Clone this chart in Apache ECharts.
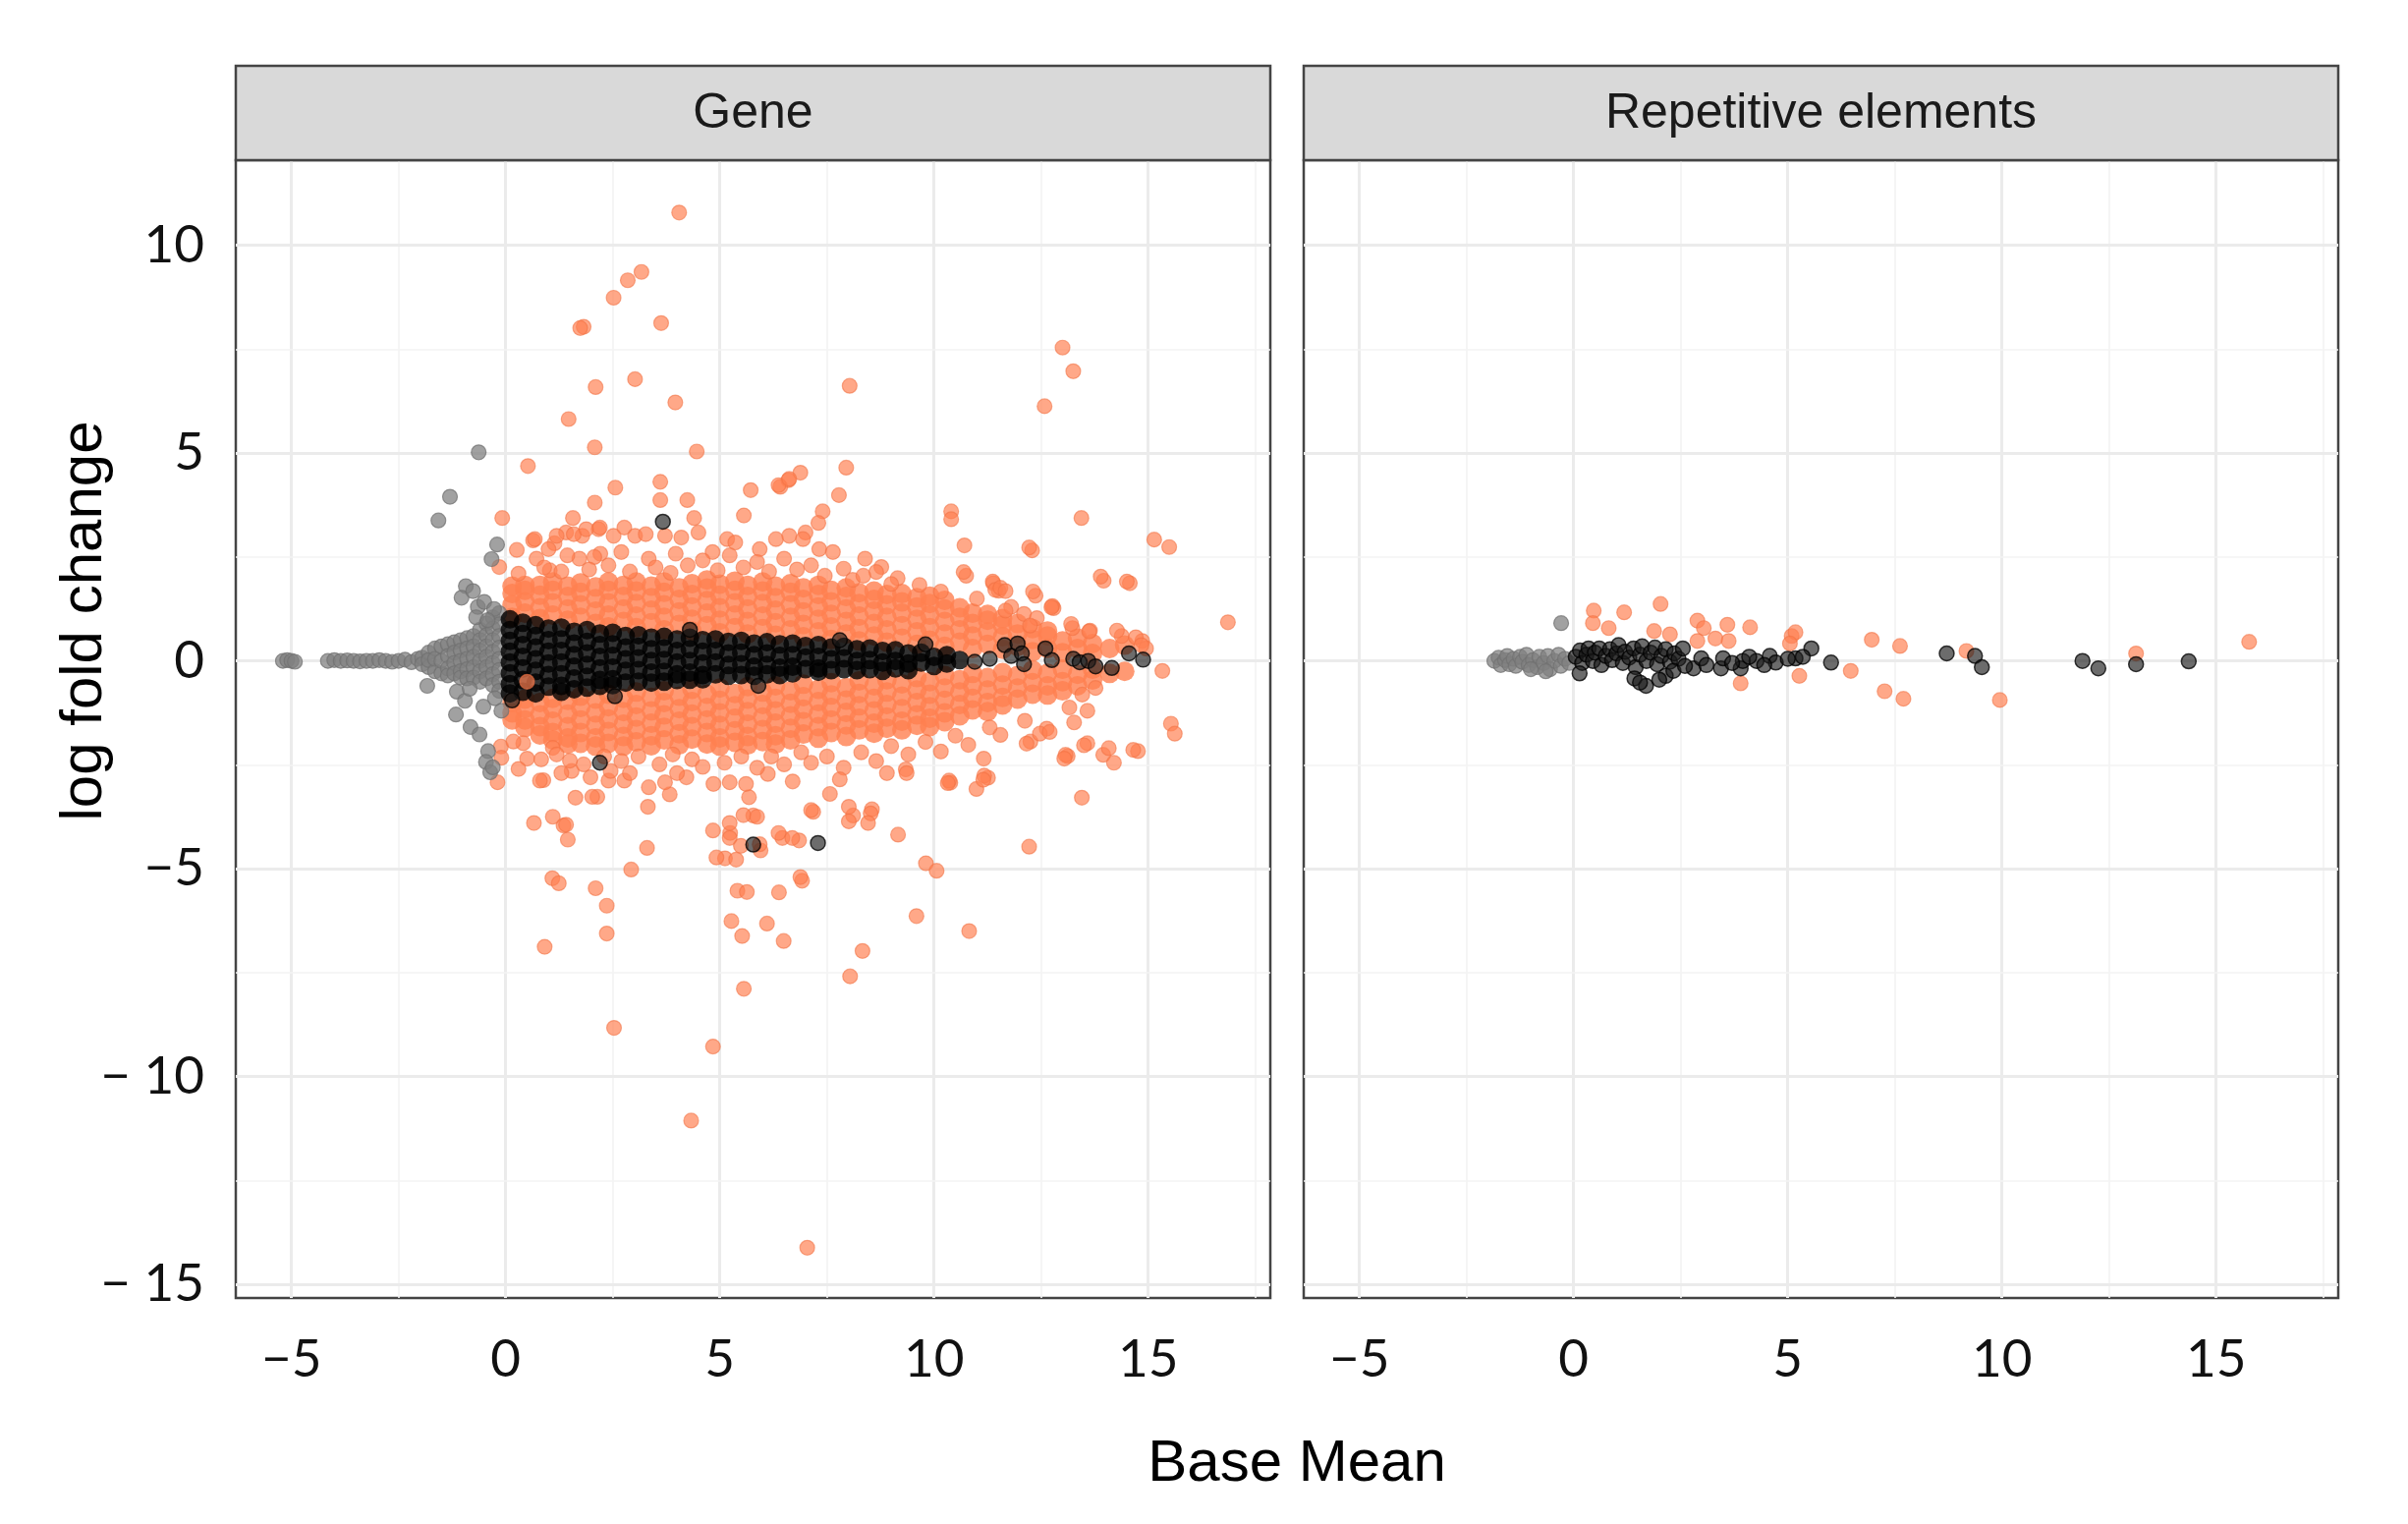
<!DOCTYPE html>
<html>
<head>
<meta charset="utf-8">
<script src="https://cdn.jsdelivr.net/npm/echarts@6/dist/echarts.min.js"></script>
<style>
  html, body { margin: 0; padding: 0; background: #fff; }
  #chart { width: 2451px; height: 1551px; }
</style>
</head>
<body>
<div id="chart"></div>
<script>
// ---- data ----
var panelNames = ['Gene', 'Repetitive elements'];
var xTicks = [-5, 0, 5, 10, 15];
var yTicks = [-15, -10, -5, 0, 5, 10];
var xMinorLines = [-2.5, 2.5, 7.5, 12.5, 17.5];
var yMinorLines = [-12.5, -7.5, -2.5, 2.5, 7.5];

// Gene panel, significant (orange): dense cloud as columns [x, y, y, ...]
var geneSigCloud = [
  [0.15, 1.05, 1.35, 1.62, 1.8, -1.0, -1.25, -1.42],
  [0.45, 1.15, 1.42, 1.7, 1.82, -0.92, -1.15, -1.42, -1.6],
  [0.8, 1.02, 1.28, 1.58, 1.82, -1.0, -1.3, -1.58, -1.78],
  [1.1, 1.1, 1.4, 1.7, 1.9, -0.9, -1.15, -1.45, -1.72, -1.9],
  [1.45, 0.98, 1.25, 1.55, 1.8, -0.95, -1.28, -1.58, -1.85, -2.0],
  [1.75, 1.05, 1.35, 1.65, 1.88, -0.85, -1.12, -1.42, -1.72, -1.98],
  [2.1, 0.9, 1.2, 1.5, 1.78, -0.92, -1.25, -1.55, -1.85, -2.05],
  [2.4, 0.82, 1.1, 1.4, 1.7, 1.9, -0.8, -1.1, -1.4, -1.7, -1.98],
  [2.75, 0.95, 1.25, 1.55, 1.82, -0.9, -1.22, -1.52, -1.82, -2.05],
  [3.05, 0.8, 1.08, 1.38, 1.68, 1.9, -0.75, -1.05, -1.35, -1.65, -1.95],
  [3.4, 0.92, 1.22, 1.52, 1.8, -0.88, -1.2, -1.5, -1.8, -2.04],
  [3.7, 0.75, 1.05, 1.35, 1.65, 1.9, -0.72, -1.0, -1.3, -1.6, -1.9],
  [4.05, 0.88, 1.18, 1.48, 1.76, -0.85, -1.15, -1.45, -1.75, -2.02],
  [4.35, 0.72, 1.0, 1.3, 1.6, 1.86, -0.68, -0.98, -1.28, -1.58, -1.88],
  [4.7, 0.85, 1.15, 1.45, 1.75, 1.95, -0.8, -1.12, -1.42, -1.72, -2.0],
  [5.0, 0.68, 0.98, 1.28, 1.58, 1.85, -0.65, -0.95, -1.25, -1.55, -1.85, -2.05],
  [5.35, 0.8, 1.1, 1.4, 1.7, 1.92, -0.78, -1.08, -1.38, -1.68, -1.96],
  [5.65, 0.65, 0.95, 1.25, 1.55, 1.82, -0.62, -0.92, -1.22, -1.52, -1.82, -2.02],
  [6.0, 0.78, 1.08, 1.38, 1.68, 1.9, -0.75, -1.05, -1.35, -1.65, -1.94],
  [6.3, 0.62, 0.92, 1.22, 1.52, 1.8, -0.6, -0.9, -1.2, -1.5, -1.8, -2.0],
  [6.65, 0.75, 1.05, 1.35, 1.65, 1.86, -0.72, -1.02, -1.32, -1.62, -1.9],
  [6.95, 0.58, 0.88, 1.18, 1.48, 1.76, -0.56, -0.86, -1.16, -1.46, -1.76],
  [7.3, 0.7, 1.0, 1.3, 1.6, 1.82, -0.68, -0.98, -1.28, -1.58, -1.86],
  [7.6, 0.52, 0.82, 1.12, 1.42, 1.7, -0.52, -0.82, -1.12, -1.42, -1.72],
  [7.95, 0.65, 0.95, 1.25, 1.55, 1.76, -0.64, -0.94, -1.24, -1.54, -1.82],
  [8.25, 0.48, 0.78, 1.08, 1.38, 1.64, -0.48, -0.78, -1.08, -1.38, -1.66],
  [8.6, 0.6, 0.9, 1.2, 1.48, 1.68, -0.6, -0.9, -1.2, -1.5, -1.74],
  [8.9, 0.45, 0.75, 1.05, 1.35, 1.6, -0.45, -0.75, -1.05, -1.35, -1.62],
  [9.25, 0.55, 0.85, 1.15, 1.42, 1.62, -0.55, -0.85, -1.15, -1.45, -1.66],
  [9.6, 0.4, 0.7, 1.0, 1.3, 1.52, -0.4, -0.7, -1.0, -1.3, -1.55],
  [9.9, 0.5, 0.8, 1.1, 1.38, 1.56, -0.5, -0.8, -1.1, -1.38, -1.58],
  [10.25, 0.35, 0.65, 0.95, 1.25, 1.46, -0.35, -0.65, -0.95, -1.25, -1.46],
  [10.6, 0.45, 0.75, 1.05, 1.28, -0.45, -0.75, -1.05, -1.32],
  [10.9, 0.3, 0.6, 0.9, 1.15, -0.3, -0.6, -0.9, -1.18],
  [11.25, 0.4, 0.7, 0.98, 1.12, -0.4, -0.7, -1.0, -1.22],
  [11.6, 0.28, 0.58, 0.86, 1.02, -0.28, -0.58, -0.88, -1.06],
  [11.95, 0.35, 0.65, 0.9, -0.35, -0.65, -0.92],
  [12.3, 0.22, 0.52, 0.78, -0.22, -0.52, -0.8],
  [12.65, 0.3, 0.6, 0.72, -0.3, -0.6, -0.82],
  [13.0, 0.2, 0.48, -0.2, -0.5, -0.72],
  [13.35, 0.3, 0.55, -0.32, -0.6],
  [13.7, 0.18, 0.42, -0.2, -0.46],
  [14.1, 0.3, -0.3],
  [14.45, 0.38, -0.25]
];

// Gene panel, significant (orange): scattered points [x, y]
var geneSigScatter = [
  [4.05, 10.79], [3.17, 9.36], [2.85, 9.16], [2.52, 8.74], [1.82, 8.04], [1.74, 8.01],
  [3.63, 8.13], [13.0, 7.54], [13.25, 6.97], [2.1, 6.59], [3.02, 6.78], [8.03, 6.62],
  [3.96, 6.22], [12.58, 6.13], [1.47, 5.82], [2.08, 5.14], [4.46, 5.04], [0.52, 4.69],
  [7.95, 4.65], [6.88, 4.53], [6.6, 4.35], [6.41, 4.19], [5.72, 4.11], [2.56, 4.17],
  [3.61, 4.31], [3.61, 3.87], [4.24, 3.87], [2.08, 3.81], [7.78, 3.99], [7.4, 3.6],
  [7.3, 3.32], [5.56, 3.5], [4.4, 3.44], [1.57, 3.44], [-0.08, 3.44], [10.4, 3.6],
  [10.4, 3.41], [13.44, 3.44], [15.14, 2.92], [15.49, 2.74], [10.71, 2.78], [12.29, 2.66],
  [10.75, 2.05], [13.96, 1.93], [14.57, 1.87], [16.86, 0.93], [12.37, 1.57], [11.38, 1.87],
  [11.51, 1.69], [12.79, 1.27], [13.23, 0.79], [14.38, 0.6], [14.86, 0.48], [14.95, 0.3],
  [15.33, -0.24], [15.53, -1.51], [15.62, -1.75],
  [2.17, 3.17], [1.41, 3.09], [1.79, 3.01], [0.64, 2.9], [0.26, 2.67], [1.14, 2.83],
  [0.72, 2.46], [-0.15, 2.26], [1.03, 2.18], [1.72, 2.46], [2.21, 2.58],
  [6.37, 4.23], [6.62, 4.38], [7.0, 3.09], [12.22, 2.73],
  [0.68, 2.93], [1.0, 2.69], [1.19, 3.01], [1.59, 3.05], [1.88, 3.17], [2.2, 3.21],
  [2.52, 3.01], [2.77, 3.21], [3.02, 3.01], [3.27, 3.05], [3.72, 3.01], [4.1, 2.97],
  [4.5, 3.09], [4.83, 2.62], [5.17, 2.93], [5.36, 2.85], [5.93, 2.69], [6.31, 2.93],
  [6.62, 3.01], [6.94, 2.93], [7.32, 2.69], [7.64, 2.62], [8.39, 2.46], [8.77, 2.26],
  [10.69, 2.14], [13.89, 2.03], [14.5, 1.91],
  [1.44, 2.54], [2.07, 2.5], [2.7, 2.62], [3.34, 2.46], [3.97, 2.58], [4.6, 2.42],
  [5.23, 2.54], [5.87, 2.38], [6.5, 2.46], [7.13, 2.3], [7.89, 2.22], [8.65, 2.14],
  [9.15, 1.99], [9.66, 1.83], [10.16, 1.67],
  [11.37, 1.91], [11.43, 1.71], [12.31, 1.67], [12.76, 1.32], [13.2, 0.89], [13.64, 0.73],
  [14.27, 0.73], [14.71, 0.57], [14.84, 0.38],
  [0.3, 2.1], [0.9, 2.25], [1.3, 2.15], [1.95, 2.2], [2.4, 2.3], [2.9, 2.15], [3.5, 2.25],
  [3.85, 2.12], [4.25, 2.3], [4.95, 2.18], [5.55, 2.25], [6.15, 2.15], [6.8, 2.2],
  [7.45, 2.05], [8.1, 1.95], [8.35, 2.05], [9.0, 1.85], [11.0, 1.5], [11.8, 1.3],
  [12.1, 1.13], [12.4, 1.03], [12.24, 0.85], [13.62, 0.71], [12.74, 1.29], [11.67, 1.21],
  [11.55, 1.76], [11.67, 1.68],
  [7.04, -14.12], [4.33, -11.06], [4.84, -9.28], [2.53, -8.83], [8.04, -7.59], [8.33, -6.98],
  [0.91, -6.88], [5.56, -7.89], [2.36, -6.56], [6.49, -6.74], [5.52, -6.62], [6.1, -6.32],
  [5.27, -6.26], [10.82, -6.5], [9.59, -6.14], [2.36, -5.89], [2.1, -5.47], [1.09, -5.23],
  [1.24, -5.35], [5.41, -5.53], [5.63, -5.56], [6.38, -5.57], [6.92, -5.29], [2.93, -5.02],
  [9.81, -4.87], [10.06, -5.05], [5.12, -4.75], [5.38, -4.78], [5.95, -4.56], [12.22, -4.47],
  [3.3, -4.5], [0.66, -3.9], [1.45, -4.3], [1.35, -3.96], [4.84, -4.08], [5.24, -4.14],
  [6.46, -4.26], [6.85, -4.32], [9.16, -4.18], [13.45, -3.29], [7.18, -3.63], [8.55, -3.57],
  [8.11, -3.72], [5.78, -3.72], [3.32, -3.51], [2.14, -3.27], [1.63, -3.29], [0.88, -2.87],
  [3.83, -3.21], [10.38, -2.93], [11.26, -2.81], [13.12, -2.29], [13.95, -2.26], [14.2, -2.45],
  [14.76, -2.17],
  [-0.11, -2.06], [-0.1, -2.33], [0.41, -1.98], [1.1, -2.09], [0.83, -2.37], [-0.19, -2.92],
  [0.8, -2.88], [2.02, -3.27], [1.98, -2.8], [2.4, -2.88], [1.1, -3.75], [1.41, -3.94],
  [1.54, -2.65], [2.45, -2.65], [2.77, -2.88], [3.34, -3.04], [3.72, -2.92], [4.22, -2.8],
  [4.85, -2.96], [5.23, -2.92], [5.68, -3.28], [5.61, -2.96], [6.12, -2.72], [5.23, -4.26],
  [5.23, -3.9], [5.55, -3.71], [5.87, -3.75], [4.92, -4.73], [5.49, -4.45], [5.93, -4.41],
  [6.37, -4.14], [6.69, -4.26], [6.88, -5.2], [7.13, -3.59], [7.57, -3.2], [8.01, -3.51],
  [8.52, -3.67], [8.01, -3.86], [8.46, -3.9], [9.34, -2.61], [10.35, -2.88], [11.17, -2.76],
  [10.99, -3.08], [12.25, -1.94], [12.63, -1.63], [13.07, -2.26], [13.58, -1.98], [14.08, -2.1],
  [14.65, -2.14],
  [0.18, -1.94], [1.19, -2.25], [1.82, -2.49], [2.7, -2.41], [3.59, -2.49], [4.35, -2.37],
  [5.11, -2.45], [5.87, -2.57], [6.5, -2.49], [7.13, -2.45], [7.89, -2.57], [8.65, -2.41],
  [9.4, -2.25], [10.16, -2.18], [10.8, -2.02], [11.55, -1.78],
  [12.12, -1.44], [12.47, -1.75], [12.7, -1.71], [12.16, -1.99], [13.04, -2.35], [13.5, -2.03],
  [13.16, -1.12], [13.58, -1.2], [13.27, -1.48], [13.77, -0.65], [13.46, -0.81], [11.16, -2.35],
  [11.15, -2.86], [10.32, -2.94], [9.36, -2.7],
  [0.5, -2.35], [1.5, -2.4], [2.3, -2.3], [3.1, -2.3], [3.9, -2.25], [4.6, -2.55], [5.5, -2.3],
  [6.2, -2.3], [6.9, -2.2], [7.5, -2.3], [8.3, -2.2], [9.0, -2.05], [9.8, -1.95], [10.5, -1.8],
  [11.3, -1.6], [2.9, -2.7], [4.0, -2.7], [6.7, -2.9], [7.8, -2.85], [8.9, -2.7], [0.3, -2.6],
  [1.3, -2.7]
];
var geneSigOnTop = [[0.5, -0.5]];

// Gene panel, not significant (black): band as columns [x, y, y, ...] plus single points
var geneNsBand = [
  [0.1, 1.0, 0.74, 0.48, 0.22, -0.04, -0.3, -0.56, -0.78],
  [0.4, 0.92, 0.65, 0.38, 0.1, -0.18, -0.46, -0.74],
  [0.7, 0.86, 0.6, 0.32, 0.04, -0.24, -0.52, -0.78],
  [1.0, 0.78, 0.5, 0.22, -0.06, -0.34, -0.62],
  [1.3, 0.8, 0.52, 0.24, -0.04, -0.32, -0.6, -0.74],
  [1.6, 0.7, 0.42, 0.14, -0.14, -0.42, -0.68],
  [1.9, 0.74, 0.46, 0.18, -0.1, -0.38, -0.64],
  [2.2, 0.66, 0.38, 0.1, -0.18, -0.46, -0.6],
  [2.5, 0.68, 0.4, 0.12, -0.16, -0.44, -0.58],
  [2.8, 0.6, 0.32, 0.04, -0.24, -0.52],
  [3.1, 0.62, 0.34, 0.06, -0.22, -0.5],
  [3.4, 0.56, 0.28, 0.0, -0.28, -0.52],
  [3.7, 0.58, 0.3, 0.02, -0.26, -0.5],
  [4.0, 0.52, 0.24, -0.04, -0.32, -0.46],
  [4.3, 0.56, 0.28, 0.0, -0.28, -0.45],
  [4.6, 0.5, 0.22, -0.06, -0.34, -0.44],
  [4.9, 0.52, 0.24, -0.04, -0.32],
  [5.2, 0.46, 0.18, -0.1, -0.36],
  [5.5, 0.48, 0.2, -0.08, -0.34],
  [5.8, 0.42, 0.14, -0.14, -0.36],
  [6.1, 0.45, 0.18, -0.1, -0.32],
  [6.4, 0.4, 0.12, -0.16, -0.34],
  [6.7, 0.42, 0.14, -0.14, -0.3],
  [7.0, 0.36, 0.08, -0.2],
  [7.3, 0.38, 0.1, -0.18, -0.26],
  [7.6, 0.32, 0.04, -0.22],
  [7.9, 0.34, 0.06, -0.2],
  [8.2, 0.28, 0.0, -0.22],
  [8.5, 0.3, 0.02, -0.2],
  [8.8, 0.24, -0.04, -0.24],
  [9.1, 0.26, 0.0, -0.18],
  [9.4, 0.18, -0.06, -0.22],
  [9.7, 0.2, -0.04],
  [10.0, 0.1, -0.12],
  [10.3, 0.14, -0.06],
  [10.6, 0.02]
];
var geneNsSingles = [
  [10.95, -0.02], [11.3, 0.05], [11.65, 0.38], [11.8, 0.12], [11.95, 0.42], [12.05, 0.18],
  [12.1, -0.08], [12.6, 0.3], [12.75, 0.02], [13.25, 0.05], [13.4, -0.03], [13.6, 0.0],
  [13.77, -0.13], [14.15, -0.17], [14.55, 0.18], [14.88, 0.03], [3.67, 3.35], [2.2, -2.45],
  [5.78, -4.42], [7.29, -4.38], [0.15, -0.95], [2.55, -0.85], [4.3, 0.75], [7.8, 0.5],
  [9.8, 0.4], [5.9, -0.6]
];

// Gene panel, low counts (grey)
var geneLow = [
  [-5.2, 0.0], [-5.1, 0.02], [-5.0, 0.0], [-4.92, -0.02], [-4.15, 0.0], [-4.0, 0.02],
  [-3.85, 0.0], [-3.7, 0.01], [-3.55, 0.0], [-3.4, -0.01], [-3.25, 0.0], [-3.1, 0.0],
  [-2.95, 0.02], [-2.8, 0.0], [-2.65, -0.02], [-2.5, 0.0], [-2.35, 0.03], [-2.2, -0.03],
  [-2.05, 0.05], [-1.95, 0.08], [-1.95, -0.08], [-1.8, 0.2], [-1.8, -0.15], [-1.8, 0.02],
  [-1.65, 0.3], [-1.65, -0.25], [-1.65, 0.05], [-1.5, 0.35], [-1.5, -0.3], [-1.5, 0.0],
  [-1.35, 0.4], [-1.35, 0.12], [-1.35, -0.18], [-1.35, -0.35], [-1.2, 0.45], [-1.2, 0.2],
  [-1.2, -0.05], [-1.2, -0.3], [-1.05, 0.5], [-1.05, 0.25], [-1.05, 0.0], [-1.05, -0.25],
  [-1.05, -0.4], [-0.9, 0.55], [-0.9, 0.3], [-0.9, 0.05], [-0.9, -0.2], [-0.9, -0.42],
  [-0.75, 0.6], [-0.75, 0.35], [-0.75, 0.1], [-0.75, -0.15], [-0.75, -0.4], [-0.6, 0.75],
  [-0.6, 0.5], [-0.6, 0.25], [-0.6, 0.0], [-0.6, -0.25], [-0.6, -0.5], [-0.45, 0.9],
  [-0.45, 0.62], [-0.45, 0.35], [-0.45, 0.1], [-0.45, -0.15], [-0.45, -0.42], [-0.3, 1.05],
  [-0.3, 0.78], [-0.3, 0.5], [-0.3, 0.22], [-0.3, -0.05], [-0.3, -0.32], [-0.3, -0.58],
  [-0.15, 1.15], [-0.15, 0.88], [-0.15, 0.6], [-0.15, 0.32], [-0.15, 0.05], [-0.15, -0.22],
  [-0.15, -0.5], [-0.15, -0.72],
  [-0.63, 5.02], [-1.3, 3.95], [-1.57, 3.38], [-0.2, 2.8], [-0.33, 2.45], [-0.93, 1.8],
  [-1.03, 1.52], [-0.76, 1.68], [-0.65, 1.3], [-0.69, 1.05], [-0.5, 1.42], [-0.27, 1.25],
  [-0.42, 0.98], [-1.83, -0.6], [-1.14, -0.74], [-0.95, -0.96], [-0.84, -0.67], [-0.52, -1.1],
  [-1.16, -1.29], [-0.82, -1.59], [-0.61, -1.77], [-0.41, -2.17], [-0.46, -2.43], [-0.36, -2.68],
  [-0.3, -2.56], [-0.25, -0.9], [-0.1, -1.2]
];

// Repetitive elements panel
var repSig = [
  [0.47, 1.21], [0.45, 0.91], [0.82, 0.79], [1.18, 1.17], [2.03, 1.37], [1.88, 0.72],
  [2.25, 0.64], [2.89, 0.97], [3.04, 0.79], [2.89, 0.48], [3.31, 0.54], [3.59, 0.87],
  [3.62, 0.48], [4.12, 0.81], [3.9, -0.54], [5.09, 0.6], [5.18, 0.69], [5.05, 0.42],
  [5.27, -0.36], [6.47, -0.24], [6.96, 0.51], [7.26, -0.73], [7.62, 0.36], [7.7, -0.91],
  [9.17, 0.24], [9.95, -0.94], [13.13, 0.18], [15.77, 0.46]
];
var repNs = [
  [0.05, 0.1], [0.15, 0.25], [0.2, -0.05], [0.3, 0.15], [0.35, 0.3], [0.45, 0.0], [0.5, 0.2],
  [0.6, 0.3], [0.65, -0.1], [0.75, 0.12], [0.85, 0.28], [0.9, 0.02], [1.0, 0.18], [1.05, 0.38],
  [1.15, -0.05], [1.2, 0.22], [1.3, 0.08], [1.4, 0.3], [1.45, -0.15], [1.55, 0.15], [1.6, 0.35],
  [1.7, 0.0], [1.8, 0.2], [1.9, 0.32], [1.95, -0.08], [2.05, 0.12], [2.15, 0.28], [2.25, -0.02],
  [2.35, 0.18], [2.45, 0.05], [2.55, 0.3], [0.14, -0.3], [1.42, -0.42], [1.69, -0.6],
  [1.55, -0.52], [2.15, -0.36], [2.33, -0.24], [2.0, -0.45], [2.8, -0.18], [2.98, 0.06],
  [3.44, -0.18], [3.49, 0.06], [3.9, -0.18], [3.95, 0.0], [4.27, 0.0], [4.58, 0.12],
  [4.72, -0.04], [5.18, 0.06], [5.55, 0.3], [6.01, -0.04], [8.71, 0.18], [9.37, 0.12],
  [9.53, -0.15], [11.88, 0.0], [12.25, -0.18], [13.13, -0.08], [14.36, -0.01], [3.1, -0.1],
  [3.7, -0.05], [4.1, 0.1], [4.45, -0.1], [5.0, 0.05], [5.35, 0.1], [2.6, -0.12]
];
var repLow = [
  [-1.85, 0.0], [-1.75, 0.08], [-1.7, -0.1], [-1.6, 0.02], [-1.55, 0.12], [-1.5, -0.08],
  [-1.4, 0.05], [-1.35, -0.12], [-1.25, 0.1], [-1.2, -0.02], [-1.1, 0.15], [-1.05, -0.1],
  [-0.95, 0.02], [-0.85, -0.15], [-0.8, 0.1], [-0.7, -0.05], [-0.6, 0.12], [-0.55, -0.2],
  [-0.45, 0.0], [-0.35, 0.15], [-0.3, -0.12], [-0.2, 0.05], [-0.1, -0.05], [-0.29, 0.91],
  [-1.0, -0.2], [-0.65, -0.25]
];

// ---- helpers ----
function columnsToPoints(cols) {
  var pts = [];
  cols.forEach(function (c) {
    for (var i = 1; i < c.length; i++) pts.push([c[0], c[i]]);
  });
  return pts;
}

function minusLabel(v) {
  if (v < 0) return '\u2212' + (Math.abs(v) >= 10 ? ' ' : '') + Math.abs(v);
  return String(v);
}

var orangeDense = { color: 'rgb(255,127,80)', borderWidth: 0 };
var blackDense = { color: 'rgb(0,0,0)', borderWidth: 0 };
var orangeStyle = { color: 'rgba(255,127,80,0.85)', borderColor: 'rgba(240,112,66,0.7)', borderWidth: 1.2 };
var blackStyle = { color: 'rgba(25,25,25,0.8)', borderColor: 'rgba(0,0,0,0.95)', borderWidth: 1.5 };
var greyStyle = { color: 'rgba(128,128,128,0.92)', borderColor: 'rgba(112,112,112,0.9)', borderWidth: 1.2 };

var majorLine = { color: '#ebebeb', width: 3, type: 'solid' };
var minorLine = { color: '#f3f3f3', width: 1.6, type: 'solid' };

function gridLines() {
  var d = [];
  xTicks.forEach(function (v) { d.push({ xAxis: v, lineStyle: majorLine }); });
  xMinorLines.forEach(function (v) { d.push({ xAxis: v, lineStyle: minorLine }); });
  yTicks.forEach(function (v) { d.push({ yAxis: v, lineStyle: majorLine }); });
  yMinorLines.forEach(function (v) { d.push({ yAxis: v, lineStyle: minorLine }); });
  return d;
}

function scatter(idx, data, style, size) {
  return {
    type: 'scatter', xAxisIndex: idx, yAxisIndex: idx, data: data,
    symbol: 'circle', symbolSize: size || 15, itemStyle: style, z: 2,
    silent: true, animation: false
  };
}

var tickFont = 'Lato';
var titleFont = 'Liberation Sans';

var grids = [
  { left: 240, top: 163, width: 1053, height: 1158 },
  { left: 1327, top: 163, width: 1053, height: 1158 }
];

var xAxes = grids.map(function (g, i) {
  return {
    type: 'value', gridIndex: i, min: -6.3, max: 17.85,
    splitLine: { show: false },
    axisLine: { show: false },
    axisTick: { show: true, length: 14, lineStyle: { color: '#333', width: 2.5 }, customValues: xTicks },
    axisLabel: {
      customValues: xTicks, formatter: minusLabel, margin: 36,
      fontFamily: tickFont, fontSize: 53, color: '#111'
    }
  };
});

var yAxes = grids.map(function (g, i) {
  return {
    type: 'value', gridIndex: i, min: -15.33, max: 12.05,
    splitLine: { show: false },
    axisLine: { show: false },
    axisTick: { show: i === 0, length: 13, lineStyle: { color: '#333', width: 2.5 }, customValues: yTicks },
    axisLabel: {
      show: i === 0, customValues: yTicks, formatter: minusLabel, margin: 32,
      fontFamily: tickFont, fontSize: 53, color: '#111'
    }
  };
});

var series = [];
[0, 1].forEach(function (i) {
  series.push({
    type: 'scatter', xAxisIndex: i, yAxisIndex: i, data: [], silent: true, animation: false,
    markLine: {
      silent: true, symbol: 'none', animation: false, z: 1,
      label: { show: false }, emphasis: { disabled: true },
      data: gridLines()
    }
  });
});
series.push(scatter(0, columnsToPoints(geneSigCloud), orangeDense, 20));
series.push(scatter(0, geneSigScatter, orangeStyle));
series.push(scatter(0, geneLow, greyStyle));
series.push(scatter(0, columnsToPoints(geneNsBand), blackDense, 19));
series.push(scatter(0, geneNsSingles, blackStyle));
series.push(scatter(0, geneSigOnTop, orangeStyle));
series.push(scatter(1, repSig, orangeStyle));
series.push(scatter(1, repLow, greyStyle));
series.push(scatter(1, repNs, blackStyle));

var graphics = [];
grids.forEach(function (g, i) {
  graphics.push({
    type: 'rect', z: 10,
    shape: { x: g.left, y: 67, width: g.width, height: 96 },
    style: { fill: '#d9d9d9', stroke: '#444', lineWidth: 2.5 }
  });
  graphics.push({
    type: 'text', z: 11, x: g.left + g.width / 2, y: 116,
    style: { text: panelNames[i], fontFamily: titleFont, fontSize: 50, fill: '#1a1a1a', align: 'center', verticalAlign: 'middle' }
  });
});
graphics.push({
  type: 'text', z: 11, x: 86, y: 632, rotation: Math.PI / 2,
  style: { text: 'log fold change', fontFamily: titleFont, fontSize: 60, fill: '#000', align: 'center', verticalAlign: 'middle' }
});
graphics.push({
  type: 'text', z: 11, x: 1320, y: 1490,
  style: { text: 'Base Mean', fontFamily: titleFont, fontSize: 60, fill: '#000', align: 'center', verticalAlign: 'middle' }
});

var chart = echarts.init(document.getElementById('chart'));
chart.setOption({
  backgroundColor: '#fff',
  animation: false,
  grid: grids.map(function (g) {
    return { left: g.left, top: g.top, width: g.width, height: g.height, show: true,
      backgroundColor: '#fff', borderColor: '#444', borderWidth: 2.5, containLabel: false };
  }),
  xAxis: xAxes,
  yAxis: yAxes,
  series: series,
  graphic: graphics
});
</script>
</body>
</html>
